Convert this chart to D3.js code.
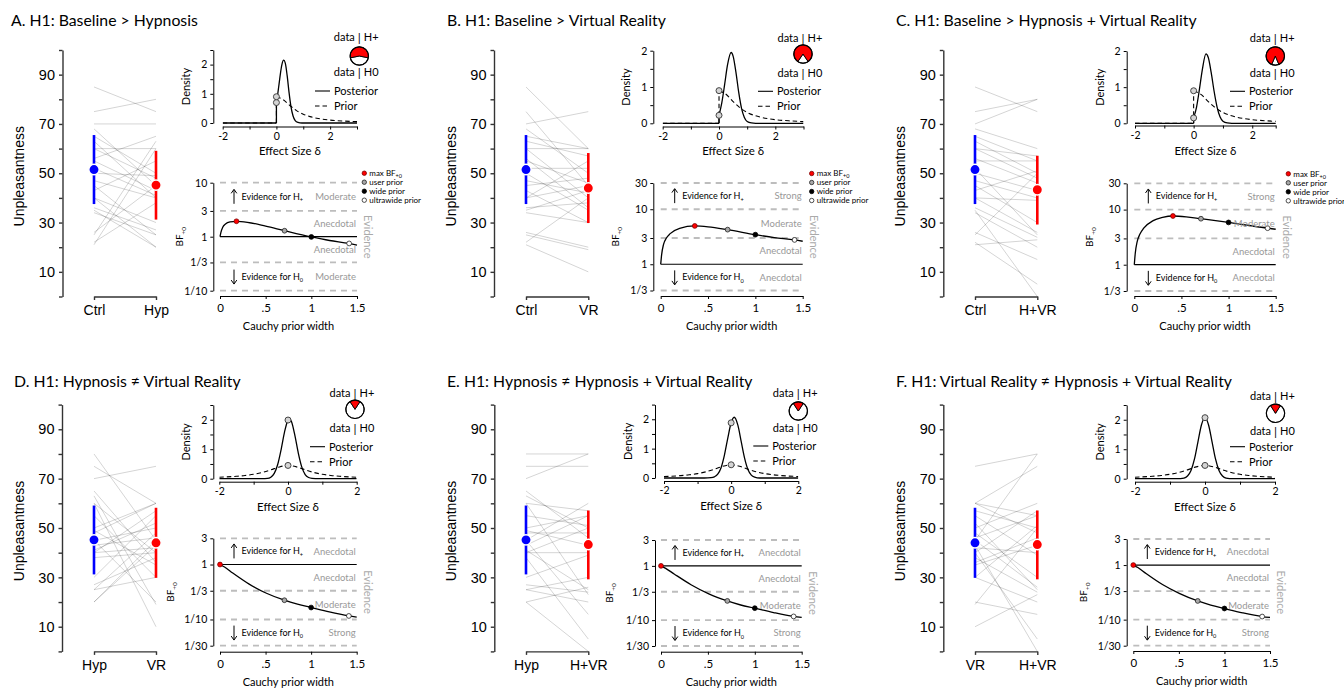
<!DOCTYPE html>
<html><head><meta charset="utf-8">
<script src="https://cdn.jsdelivr.net/npm/d3@7"></script>
<style>
body{margin:0;background:#fff;}
svg{display:block;}
</style></head><body>
<svg id="chart" width="1344" height="688"></svg>
<script>
// ================= DATA =================
const panelTitles = [
  "A. H1: Baseline > Hypnosis",
  "B. H1: Baseline > Virtual Reality",
  "C. H1: Baseline > Hypnosis + Virtual Reality",
  "D. H1: Hypnosis \u2260 Virtual Reality",
  "E. H1: Hypnosis \u2260 Hypnosis + Virtual Reality",
  "F. H1: Virtual Reality \u2260 Hypnosis + Virtual Reality"
];
const conditionNames = ["Ctrl", "Hyp", "VR", "H+VR"];
const panelPairs = [[0,1],[0,2],[0,3],[1,2],[1,3],[2,3]];

// per-subject unpleasantness ratings
const ctrl = [85,75,70,68,65,63,60,60,56,55,52,50,47,45,43,40,40,36,35,34,26,25,22,21];
const hyp  = [75,80,70,45,50,40,60,48,65,43,41,49,40,25,55,20,30,27,20,25,45,63,38,60];
const vr   = [60,45,75,50,60,57,40,60,36,46,52,35,42,48,30,45,55,38,43,30,20,19,40,10];
const hvr  = [75,80,80,60,55,50,57,48,46,55,25,43,40,30,51,26,39,24,0,20,15,50,5,23];

// condition summary (mean, lower and upper end of the bar)
const condMean = [51.5, 45.2, 44.0, 43.3];
const condLow  = [37.5, 31.2, 29.8, 29.2];
const condHigh = [65.5, 59.1, 58.2, 57.1];
const unpleasantTicks = [10, 30, 50, 70, 90];

// prior and posterior densities (effect size delta, density)
const priorOneSided = [[-2,0],[0,0],[0,0.90],[0.25,0.80],[0.5,0.60],[0.75,0.424],[1,0.30],[1.25,0.218],[1.5,0.164],[2,0.10],[2.5,0.067],[3,0.047]];
const priorTwoSided = [[-2,0.05],[-1.5,0.082],[-1.25,0.109],[-1,0.15],[-0.75,0.212],[-0.5,0.30],[-0.25,0.40],[0,0.45],[0.25,0.40],[0.5,0.30],[0.75,0.212],[1,0.15],[1.25,0.109],[1.5,0.082],[2,0.05]];
const postA = [[-2,0],[0,0],[0,0.70],[0.05,1.0],[0.1,1.35],[0.15,1.7],[0.2,1.98],[0.27,2.15],[0.33,2.05],[0.4,1.62],[0.47,1.05],[0.54,0.57],[0.62,0.24],[0.7,0.08],[0.8,0.02],[0.95,0],[3,0]];
const postB = [[-2,0],[0,0],[0,0.22],[0.1,0.57],[0.2,1.07],[0.3,1.6],[0.43,1.95],[0.5,1.85],[0.6,1.41],[0.7,0.85],[0.8,0.41],[0.9,0.16],[1.0,0.05],[1.15,0.01],[1.3,0],[3,0]];
const postC = [[-2,0],[0,0],[0,0.15],[0.1,0.45],[0.2,0.95],[0.3,1.5],[0.42,1.92],[0.5,1.82],[0.6,1.4],[0.7,0.88],[0.8,0.45],[0.9,0.18],[1.0,0.06],[1.15,0.01],[1.3,0],[3,0]];
const postD = [[-2,0],[-0.9,0],[-0.7,0.005],[-0.6,0.01],[-0.5,0.05],[-0.4,0.18],[-0.3,0.48],[-0.2,0.99],[-0.1,1.59],[0,1.99],[0.04,2.03],[0.1,1.94],[0.2,1.47],[0.3,0.87],[0.4,0.4],[0.5,0.14],[0.6,0.04],[0.7,0.01],[0.9,0],[2,0]];
const postE = [[-2,0],[-0.8,0],[-0.6,0.01],[-0.5,0.04],[-0.4,0.13],[-0.3,0.35],[-0.2,0.78],[-0.1,1.36],[0,1.88],[0.09,2.07],[0.2,1.8],[0.3,1.24],[0.4,0.68],[0.5,0.29],[0.6,0.1],[0.7,0.03],[0.85,0],[2,0]];
const postF = [[-2,0],[-0.8,0],[-0.6,0.02],[-0.5,0.09],[-0.4,0.28],[-0.3,0.67],[-0.2,1.26],[-0.1,1.83],[0,2.07],[0.1,1.83],[0.2,1.26],[0.3,0.67],[0.4,0.28],[0.5,0.09],[0.6,0.02],[0.8,0],[2,0]];
const posteriors = [postA, postB, postC, postD, postE, postF];
const priors = [priorOneSided, priorOneSided, priorOneSided, priorTwoSided, priorTwoSided, priorTwoSided];
const postAtZero  = [0.70, 0.22, 0.15, 1.99, 1.88, 2.07];
const priorAtZero = [0.90, 0.90, 0.90, 0.45, 0.45, 0.45];
const densXDomains = [[-2,3],[-2,3],[-2,2.8],[-2,2],[-2,2],[-2,2]];
const densXTicks = [[-2,-1,0,1,2,3],[-2,-1,0,1,2,3],[-2,-1,0,1,2,2.8],[-2,-1,0,1,2],[-2,-1,0,1,2],[-2,-1,0,1,2]];
const densXLabels = [-2, 0, 2];
const densYMax = [2.5, 2, 2, 2.5, 2.5, 2.5];

// Bayes factor robustness (Cauchy prior width r, BF+0)
const robA = [[0,1],[0.01,1.2],[0.03,1.5],[0.06,1.72],[0.11,1.88],[0.18,1.93],[0.3,1.85],[0.5,1.57],[0.707,1.29],[1,0.99],[1.2,0.85],[1.414,0.75],[1.5,0.70]];
const robB = [[0,1],[0.01,1.5],[0.03,2.3],[0.06,3.0],[0.1,3.6],[0.2,4.5],[0.36,4.97],[0.5,4.8],[0.707,4.26],[1,3.45],[1.2,3.05],[1.414,2.77],[1.5,2.62]];
const robC = [[0,1],[0.01,1.6],[0.03,2.6],[0.06,3.6],[0.1,4.6],[0.2,6.3],[0.3,7.2],[0.41,7.65],[0.55,7.4],[0.707,6.83],[1,5.85],[1.2,5.2],[1.414,4.6],[1.5,4.4]];
const robD = [[0,1],[0.05,0.9],[0.14,0.7],[0.32,0.44],[0.51,0.30],[0.707,0.224],[0.85,0.19],[1,0.165],[1.2,0.137],[1.414,0.116],[1.5,0.11]];
const robE = [[0,1],[0.05,0.9],[0.14,0.71],[0.32,0.45],[0.51,0.305],[0.707,0.226],[0.85,0.19],[1,0.166],[1.2,0.138],[1.414,0.117],[1.5,0.112]];
const robF = [[0,1],[0.05,0.9],[0.14,0.7],[0.32,0.44],[0.51,0.30],[0.707,0.22],[0.85,0.185],[1,0.16],[1.2,0.133],[1.414,0.114],[1.5,0.11]];
const robCurves = [robA, robB, robC, robD, robE, robF];
const robMax   = [[0.18,1.93],[0.36,4.97],[0.41,7.65],[0,1],[0,1],[0,1]];
const robUser  = [[0.707,1.29],[0.707,4.26],[0.707,6.83],[0.707,0.224],[0.707,0.226],[0.707,0.22]];
const robWide  = [[1,0.99],[1,3.45],[1,5.85],[1,0.165],[1,0.166],[1,0.16]];
const robUltra = [[1.414,0.75],[1.414,2.77],[1.414,4.6],[1.414,0.116],[1.414,0.117],[1.414,0.114]];
const robXTicks = [0, 0.5, 1, 1.5];
const robXLabels = ["0", ".5", "1", "1.5"];
const robYTicks = [[1/10,1/3,1,3,10],[1/3,1,3,10,30],[1/3,1,3,10,30],[1/30,1/10,1/3,1,3],[1/30,1/10,1/3,1,3],[1/30,1/10,1/3,1,3]];
const robYLabels = [["1/10","1/3","1","3","10"],["1/3","1","3","10","30"],["1/3","1","3","10","30"],["1/30","1/10","1/3","1","3"],["1/30","1/10","1/3","1","3"],["1/30","1/10","1/3","1","3"]];
// evidence category of each band, from top band to bottom band
const evidenceBands = [
  ["Moderate","Anecdotal","Anecdotal","Moderate"],
  ["Strong","Moderate","Anecdotal","Anecdotal"],
  ["Strong","Moderate","Anecdotal","Anecdotal"],
  ["Anecdotal","Anecdotal","Moderate","Strong"],
  ["Anecdotal","Anecdotal","Moderate","Strong"],
  ["Anecdotal","Anecdotal","Moderate","Strong"]
];
const robLegendLabels = ["max BF", "user prior", "wide prior", "ultrawide prior"];
const showRobLegend = [true, true, true, false, false, false];

// ================= LAYOUT =================
const layout = [
 {tx:11, ty:26, sAx:62.5, sX1:94, sX2:156, sTop:50, sBot:296.5, dAx:213.3, dX0:222.7, dX1:357, dY0:123, dTop:50, dXAxis:126.5, pieX:359.3, pieY:56, dataY:41, legX:315, rAx:213.3, rX0:220, rX1:357, rTop:182.7, rBot:290.7, rXAxis:296, bfX:183, rLegX:364.3},
 {tx:447, ty:26, sAx:494, sX1:526, sX2:588.3, sTop:50, sBot:296.5, dAx:653.3, dX0:662.7, dX1:803.5, dY0:123.3, dTop:50.7, dXAxis:126.5, pieX:803, pieY:54, dataY:41.5, legX:758, rAx:653.3, rX0:660.7, rX1:802.7, rTop:183, rBot:290.5, rXAxis:296, bfX:619.3, rLegX:811.7},
 {tx:896, ty:26, sAx:943.3, sX1:975, sX2:1037.3, sTop:50, sBot:296.5, dAx:1126.7, dX0:1135, dX1:1275.7, dY0:123.3, dTop:51, dXAxis:125.5, pieX:1275.3, pieY:56, dataY:42, legX:1230, rAx:1126.7, rX0:1134.3, rX1:1275.7, rTop:183.3, rBot:291, rXAxis:296, bfX:1093.3, rLegX:1288.3},
 {tx:14, ty:386.5, sAx:62, sX1:94, sX2:156, sTop:404.6, sBot:651.4, dAx:213.3, dX0:219.3, dX1:356.7, dY0:478.7, dTop:405, dXAxis:481.7, pieX:355, pieY:409.3, dataY:396.5, legX:310, rAx:213.3, rX0:220, rX1:356.7, rTop:538.3, rBot:645.7, rXAxis:651.7, bfX:174},
 {tx:447, ty:386.5, sAx:494.3, sX1:526, sX2:588.3, sTop:404.6, sBot:651.4, dAx:655, dX0:664, dX1:798.3, dY0:478, dTop:404.6, dXAxis:481, pieX:798.3, pieY:411, dataY:397, legX:753.3, rAx:655, rX0:661, rX1:801.7, rTop:540, rBot:646, rXAxis:651.7, bfX:612.7},
 {tx:896, ty:386.5, sAx:943.3, sX1:975, sX2:1037.3, sTop:404.6, sBot:651.4, dAx:1126.7, dX0:1135, dX1:1275, dY0:478.7, dTop:405, dXAxis:481.7, pieX:1275.5, pieY:413.3, dataY:400, legX:1230, rAx:1126.7, rX0:1133.3, rX1:1270, rTop:539, rBot:645.7, rXAxis:651, bfX:1086.7}
];

const FJ = "Lato, 'Open Sans', sans-serif";
const FA = "'Liberation Sans', Arial, sans-serif";
const svg = d3.select("#chart");
const conds = [ctrl, hyp, vr, hvr];
const meanColors = ["#0000ff", "#ff0000"];

function styleAxis(sel, font, size, color) {
  sel.attr("font-family", font).attr("font-size", size);
  sel.selectAll("path.domain").attr("stroke", color);
  sel.selectAll(".tick line").attr("stroke", color);
  sel.selectAll(".tick text").attr("fill", "#000");
}

function drawSeries(g, pts, x, y, attrs) {
  const segs = [[pts[0]]];
  for (let k = 1; k < pts.length; k++) {
    if (pts[k][0] === pts[k-1][0]) {
      const ln = g.append("line")
        .attr("x1", x(pts[k-1][0])).attr("y1", y(pts[k-1][1]))
        .attr("x2", x(pts[k][0])).attr("y2", y(pts[k][1]));
      Object.entries(attrs).forEach(([a,v]) => ln.attr(a, v));
      segs.push([pts[k]]);
    } else segs[segs.length-1].push(pts[k]);
  }
  const gen = d3.line().x(d => x(d[0])).y(d => y(d[1])).curve(d3.curveMonotoneX);
  segs.forEach(s => {
    if (s.length > 1) {
      const p = g.append("path").attr("d", gen(s)).attr("fill", "none");
      Object.entries(attrs).forEach(([a,v]) => p.attr(a, v));
    }
  });
}

function subText(g, x, y, main, sub, size, anchor) {
  const t = g.append("text").attr("x", x).attr("y", y).attr("font-family", FJ)
    .attr("font-size", size).attr("text-anchor", anchor || "start");
  t.append("tspan").text(main);
  t.append("tspan").attr("font-size", size * 0.62).attr("dy", size * 0.28).text(sub);
  return t;
}

const markerStyles = [
  {fill:"#ff0000", stroke:"#7a0000"},
  {fill:"#a8a8a8", stroke:"#222"},
  {fill:"#000", stroke:"#000"},
  {fill:"#fff", stroke:"#222"}
];

layout.forEach((L, i) => {
  const g = svg.append("g");
  // ---------- title ----------
  g.append("text").attr("x", L.tx).attr("y", L.ty).attr("font-family", FJ)
    .attr("font-size", 15.8).text(panelTitles[i]);

  // ---------- slope chart ----------
  const [ci, cj] = panelPairs[i];
  const yS = d3.scaleLinear().domain([0, 100]).range([L.sBot, L.sTop]);
  const xS = d3.scalePoint().domain([conditionNames[ci], conditionNames[cj]]).range([L.sX1, L.sX2]);
  const leftVals = conds[ci], rightVals = conds[cj];
  g.append("g").selectAll("line").data(d3.range(leftVals.length)).join("line")
    .attr("x1", xS(conditionNames[ci])).attr("x2", xS(conditionNames[cj]))
    .attr("y1", k => yS(leftVals[k])).attr("y2", k => yS(rightVals[k]))
    .attr("stroke", "#000").attr("stroke-opacity", 0.17).attr("stroke-width", 1);
  const aY = g.append("g").attr("transform", `translate(${L.sAx},0)`)
    .call(d3.axisLeft(yS).tickValues(d3.range(0, 101, 10))
      .tickFormat(d => unpleasantTicks.includes(d) ? d : "").tickSize(3.5).tickSizeOuter(0).tickPadding(4));
  styleAxis(aY, FA, 14.5, "#333");
  aY.selectAll("path.domain, .tick line").attr("stroke-width", 1.4);
  const aX = g.append("g").attr("transform", `translate(0,${L.sBot})`)
    .call(d3.axisBottom(xS).tickSize(3.5).tickSizeOuter(0).tickPadding(5));
  styleAxis(aX, FA, 14, "#333");
  aX.selectAll("path.domain, .tick line").attr("stroke-width", 1.4);
  [ci, cj].forEach((c, s) => {
    const x = xS(conditionNames[c]);
    g.append("line").attr("x1", x).attr("x2", x)
      .attr("y1", yS(condLow[c])).attr("y2", yS(condHigh[c]))
      .attr("stroke", meanColors[s]).attr("stroke-width", 2.6);
    g.append("circle").attr("cx", x).attr("cy", yS(condMean[c])).attr("r", 5.2)
      .attr("fill", meanColors[s]).attr("stroke", "#fff").attr("stroke-width", 1.5);
  });
  const sMid = (L.sTop + L.sBot) / 2 + 3;
  g.append("text").attr("transform", `translate(${L.sAx - 43},${sMid}) rotate(-90)`)
    .attr("dy", "0.35em").attr("text-anchor", "middle").attr("font-family", FA)
    .attr("font-size", 14).text("Unpleasantness");

  // ---------- prior / posterior density ----------
  const xD = d3.scaleLinear().domain(densXDomains[i]).range([L.dX0, L.dX1]);
  const yD = d3.scaleLinear().domain([0, densYMax[i]]).range([L.dY0, L.dTop]);
  const dYA = g.append("g").attr("transform", `translate(${L.dAx},0)`)
    .call(d3.axisLeft(yD).tickValues(d3.range(0, densYMax[i] + 0.01, 0.5))
      .tickFormat(d => Number.isInteger(d) ? d : "").tickSize(3).tickSizeOuter(0).tickPadding(3));
  styleAxis(dYA, FJ, 10.5, "#000");
  const dXA = g.append("g").attr("transform", `translate(0,${L.dXAxis})`)
    .call(d3.axisBottom(xD).tickValues(densXTicks[i])
      .tickFormat(d => densXLabels.includes(d) ? d : "").tickSize(3).tickSizeOuter(0).tickPadding(3));
  styleAxis(dXA, FJ, 10.5, "#000");
  dXA.selectAll(".tick text").text(function(){ return this.textContent.replace("\u2212", "-"); });
  const clipId = "clip" + i;
  g.append("clipPath").attr("id", clipId).append("rect")
    .attr("x", L.dX0).attr("y", L.dTop - 5).attr("width", L.dX1 - L.dX0).attr("height", L.dY0 - L.dTop + 8);
  const cg = g.append("g").attr("clip-path", `url(#${clipId})`);
  drawSeries(cg, posteriors[i], xD, yD, {stroke:"#000", "stroke-width":1.3});
  drawSeries(cg, priors[i], xD, yD, {stroke:"#000", "stroke-width":1.1, "stroke-dasharray":"4.5,3"});
  [postAtZero[i], priorAtZero[i]].forEach(v => {
    g.append("circle").attr("cx", xD(0)).attr("cy", yD(v)).attr("r", 3)
      .attr("fill", "#d4d4d4").attr("stroke", "#444").attr("stroke-width", 1);
  });
  g.append("text").attr("transform", `translate(${L.dAx - 27},${(L.dY0 + L.dTop) / 2}) rotate(-90)`)
    .attr("dy", "0.35em").attr("text-anchor", "middle").attr("font-family", FJ)
    .attr("font-size", 11).text("Density");
  g.append("text").attr("x", (L.dX0 + L.dX1) / 2).attr("y", L.dY0 + 32)
    .attr("text-anchor", "middle").attr("font-family", FJ).attr("font-size", 11.5).text("Effect Size \u03b4");
  // legend
  [["Posterior", null, L.dY0 - 32], ["Prior", "4.5,3", L.dY0 - 17]].forEach(([lab, dash, y]) => {
    const ln = g.append("line").attr("x1", L.legX).attr("x2", L.legX + 15).attr("y1", y).attr("y2", y)
      .attr("stroke", "#000").attr("stroke-width", 1.1);
    if (dash) ln.attr("stroke-dasharray", dash);
    g.append("text").attr("x", L.legX + 19).attr("y", y).attr("dy", "0.35em")
      .attr("font-family", FJ).attr("font-size", 11).text(lab);
  });
  // proportion wheel
  const bf = robUser[i][1];
  const frac = bf / (1 + bf);
  const arc = d3.arc().innerRadius(0).outerRadius(9.2);
  const pg = g.append("g").attr("transform", `translate(${L.pieX},${L.pieY})`);
  pg.append("path").attr("d", arc({startAngle: frac * Math.PI, endAngle: 2 * Math.PI - frac * Math.PI}))
    .attr("fill", "#fff").attr("stroke", "#000").attr("stroke-width", 0.9);
  pg.append("path").attr("d", arc({startAngle: -frac * Math.PI, endAngle: frac * Math.PI}))
    .attr("fill", "#ff0000").attr("stroke", "#000").attr("stroke-width", 0.9);
  pg.append("circle").attr("r", 9.2).attr("fill", "none").attr("stroke", "#000").attr("stroke-width", 1.2);
  [["H+", L.dataY], ["H0", L.dataY + 35]].forEach(([h, y]) => {
    g.append("text").attr("x", L.pieX - 4.5).attr("y", y).attr("text-anchor", "end")
      .attr("font-family", FJ).attr("font-size", 11).text("data");
    g.append("text").attr("x", L.pieX).attr("y", y + 1).attr("text-anchor", "middle")
      .attr("font-family", FJ).attr("font-size", 12).text("|");
    g.append("text").attr("x", L.pieX + 4.5).attr("y", y).attr("text-anchor", "start")
      .attr("font-family", FJ).attr("font-size", 11).text(h);
  });

  // ---------- robustness plot ----------
  const xR = d3.scaleLinear().domain([0, 1.5]).range([L.rX0, L.rX1]);
  const yDom = robYTicks[i];
  const yR = d3.scaleLog().domain([yDom[0], yDom[yDom.length - 1]]).range([L.rBot, L.rTop]);
  yDom.forEach(v => {
    if (v === 1) {
      g.append("line").attr("x1", xR(0)).attr("x2", xR(1.5)).attr("y1", yR(v)).attr("y2", yR(v))
        .attr("stroke", "#000").attr("stroke-width", 1.2);
    } else {
      g.append("line").attr("x1", xR(0)).attr("x2", xR(1.5)).attr("y1", yR(v)).attr("y2", yR(v))
        .attr("stroke", "#bdbdbd").attr("stroke-width", 1.8).attr("stroke-dasharray", "6,5");
    }
  });
  const rYA = g.append("g").attr("transform", `translate(${L.rAx},0)`)
    .call(d3.axisLeft(yR).tickValues(yDom).tickFormat((d, k) => robYLabels[i][k])
      .tickSize(3).tickSizeOuter(0).tickPadding(3));
  styleAxis(rYA, FJ, 10.5, "#000");
  const rXA = g.append("g").attr("transform", `translate(0,${L.rXAxis})`)
    .call(d3.axisBottom(xR).tickValues(robXTicks).tickFormat((d, k) => robXLabels[k])
      .tickSize(3).tickSizeOuter(0).tickPadding(5));
  styleAxis(rXA, FJ, 11.5, "#000");
  g.append("text").attr("x", (L.rX0 + L.rX1) / 2).attr("y", L.rXAxis + 34)
    .attr("text-anchor", "middle").attr("font-family", FJ).attr("font-size", 11).text("Cauchy prior width");
  drawSeries(g, robCurves[i], xR, yR, {stroke:"#000", "stroke-width":1.3});
  [robMax[i], robUser[i], robWide[i], robUltra[i]].forEach((p, k) => {
    g.append("circle").attr("cx", xR(p[0])).attr("cy", yR(p[1])).attr("r", 2.4)
      .attr("fill", markerStyles[k].fill).attr("stroke", markerStyles[k].stroke).attr("stroke-width", 0.8);
  });
  // band labels
  for (let b = 0; b < 4; b++) {
    const hi = yDom[yDom.length - 1 - b], lo = yDom[yDom.length - 2 - b];
    const ym = yR(Math.sqrt(hi * lo));
    g.append("text").attr("x", L.rX1 - 1).attr("y", ym).attr("dy", "0.35em").attr("text-anchor", "end")
      .attr("font-family", FJ).attr("font-size", 9.5).attr("fill", "#999").text(evidenceBands[i][b]);
  }
  const topMid = yR(Math.sqrt(yDom[yDom.length - 1] * yDom[yDom.length - 2]));
  const botMid = yR(Math.sqrt(yDom[0] * yDom[1]));
  const ax = L.rX0 + 14;
  // arrows
  g.append("line").attr("x1", ax).attr("x2", ax).attr("y1", topMid + 7).attr("y2", topMid - 7)
    .attr("stroke", "#000").attr("stroke-width", 1);
  g.append("path").attr("d", `M${ax - 2.8},${topMid - 3.5}L${ax},${topMid - 7.5}L${ax + 2.8},${topMid - 3.5}`)
    .attr("fill", "none").attr("stroke", "#000").attr("stroke-width", 1);
  g.append("line").attr("x1", ax).attr("x2", ax).attr("y1", botMid - 7).attr("y2", botMid + 7)
    .attr("stroke", "#000").attr("stroke-width", 1);
  g.append("path").attr("d", `M${ax - 2.8},${botMid + 3.5}L${ax},${botMid + 7.5}L${ax + 2.8},${botMid + 3.5}`)
    .attr("fill", "none").attr("stroke", "#000").attr("stroke-width", 1);
  subText(g, L.rX0 + 21.5, topMid + 3, "Evidence for H", "+", 9);
  subText(g, L.rX0 + 21.5, botMid + 3, "Evidence for H", "0", 9);
  g.append("text").attr("transform", `translate(${L.rX1 + 11},${(L.rTop + L.rBot) / 2}) rotate(90)`)
    .attr("dy", "0.35em").attr("text-anchor", "middle").attr("font-family", FJ)
    .attr("font-size", 11).attr("fill", "#aaa").text("Evidence");
  const bfl = g.append("text").attr("transform", `translate(${L.bfX},${(L.rTop + L.rBot) / 2}) rotate(-90)`)
    .attr("text-anchor", "middle").attr("font-family", FJ).attr("font-size", 10);
  bfl.append("tspan").text("BF");
  bfl.append("tspan").attr("font-size", 6.5).attr("dy", 3).text("+0");
  // marker legend
  if (showRobLegend[i]) {
    robLegendLabels.forEach((lab, k) => {
      const y = L.rTop - 9.5 + k * 9;
      g.append("circle").attr("cx", L.rLegX).attr("cy", y).attr("r", 2.2)
        .attr("fill", markerStyles[k].fill).attr("stroke", markerStyles[k].stroke).attr("stroke-width", 0.8);
      const t = g.append("text").attr("x", L.rLegX + 5).attr("y", y).attr("dy", "0.35em")
        .attr("font-family", FJ).attr("font-size", 8).text(lab);
      if (k === 0) t.append("tspan").attr("font-size", 5.5).attr("dy", 2).text("+0");
    });
  }
});
</script>
</body></html>
